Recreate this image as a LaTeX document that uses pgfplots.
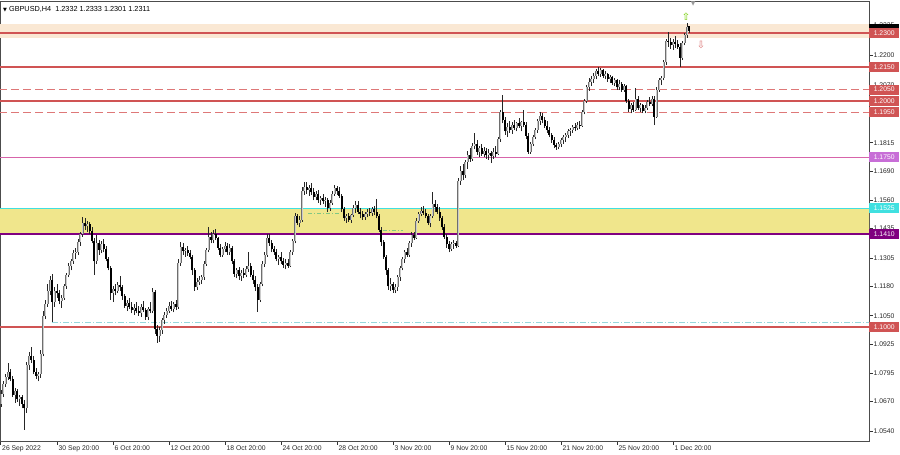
\documentclass[border=0pt]{standalone}
\usepackage{pgfplots}
\pgfplotsset{compat=1.18}
\usepackage{pgfplotstable}
\usepackage{fontspec}
\setmainfont{Liberation Sans}
\newfontfamily\dejavu{DejaVu Sans}

\definecolor{lvlred}{RGB}{208,84,84}
\definecolor{lvldash}{RGB}{222,120,120}
\definecolor{band}{RGB}{250,232,212}
\definecolor{zone}{RGB}{240,230,140}
\definecolor{zonetop}{RGB}{64,224,224}
\definecolor{zonebot}{RGB}{128,0,128}
\definecolor{pinkline}{RGB}{215,100,170}
\definecolor{pinkbox}{RGB}{200,110,215}
\definecolor{bullgray}{RGB}{110,110,110}
\definecolor{faintcyan}{RGB}{150,215,220}
\definecolor{faintgreen}{RGB}{130,200,130}

\newcommand{\lab}{\fontsize{6.8bp}{8bp}\selectfont}

% GBPUSD H4 bars, k = bar index (0 = 30 Sep 20:00)
\pgfplotstableread{
k o h l c
-24 1.0660 1.0720 1.0648 1.0705
-23 1.0705 1.0760 1.0690 1.0748
-22 1.0748 1.0790 1.0735 1.0780
-21 1.0780 1.0841 1.0765 1.0800
-20 1.0800 1.0815 1.0760 1.0772
-19 1.0772 1.0785 1.0690 1.0700
-18 1.0700 1.0730 1.0665 1.0715
-17 1.0715 1.0725 1.0670 1.0680
-16 1.0680 1.0700 1.0650 1.0690
-15 1.0690 1.0700 1.0640 1.0660
-14 1.0660 1.0675 1.0545 1.0640
-13 1.0640 1.0845 1.0620 1.0830
-12 1.0830 1.0890 1.0810 1.0870
-11 1.0870 1.0912 1.0840 1.0855
-10 1.0855 1.0870 1.0790 1.0800
-9 1.0800 1.0820 1.0770 1.0785
-8 1.0785 1.0800 1.0760 1.0790
-7 1.0790 1.0900 1.0775 1.0880
-6 1.0880 1.1070 1.0870 1.1050
-5 1.1050 1.1120 1.1035 1.1100
-4 1.1100 1.1190 1.1090 1.1160
-3 1.1160 1.1225 1.1140 1.1210
-2 1.1210 1.1235 1.1022 1.1110
-1 1.1110 1.1175 1.1090 1.1160
0 1.1160 1.1190 1.1130 1.1150
1 1.1150 1.1165 1.1100 1.1115
2 1.1115 1.1140 1.1085 1.1130
3 1.1130 1.1190 1.1120 1.1180
4 1.1180 1.1240 1.1170 1.1230
5 1.1230 1.1285 1.1220 1.1270
6 1.1270 1.1300 1.1250 1.1290
7 1.1290 1.1340 1.1280 1.1325
8 1.1325 1.1350 1.1300 1.1330
9 1.1330 1.1390 1.1320 1.1375
10 1.1375 1.1420 1.1360 1.1410
11 1.1410 1.1487 1.1400 1.1460
12 1.1460 1.1480 1.1430 1.1445
13 1.1445 1.1470 1.1420 1.1455
14 1.1455 1.1465 1.1410 1.1425
15 1.1425 1.1440 1.1370 1.1380
16 1.1380 1.1395 1.1230 1.1290
17 1.1290 1.1407 1.1280 1.1370
18 1.1370 1.1385 1.1320 1.1340
19 1.1340 1.1380 1.1325 1.1365
20 1.1365 1.1390 1.1330 1.1345
21 1.1345 1.1360 1.1290 1.1300
22 1.1300 1.1310 1.1250 1.1260
23 1.1260 1.1270 1.1120 1.1150
24 1.1150 1.1180 1.1110 1.1170
25 1.1170 1.1190 1.1140 1.1160
26 1.1160 1.1200 1.1150 1.1185
27 1.1185 1.1225 1.1160 1.1175
28 1.1175 1.1185 1.1120 1.1135
29 1.1135 1.1145 1.1085 1.1095
30 1.1095 1.1120 1.1070 1.1105
31 1.1105 1.1130 1.1080 1.1090
32 1.1090 1.1110 1.1060 1.1075
33 1.1075 1.1100 1.1055 1.1085
34 1.1085 1.1110 1.1060 1.1070
35 1.1070 1.1095 1.1050 1.1060
36 1.1060 1.1100 1.1045 1.1090
37 1.1090 1.1115 1.1065 1.1075
38 1.1075 1.1085 1.1030 1.1045
39 1.1045 1.1090 1.1030 1.1080
40 1.1080 1.1110 1.1060 1.1070
41 1.1070 1.1173 1.1060 1.1155
42 1.1155 1.1165 1.0970 1.0990
43 1.0990 1.1010 1.0930 1.0960
44 1.0960 1.1000 1.0935 1.0985
45 1.0985 1.1040 1.0970 1.1030
46 1.1030 1.1065 1.1015 1.1055
47 1.1055 1.1085 1.1040 1.1070
48 1.1070 1.1110 1.1060 1.1095
49 1.1095 1.1115 1.1070 1.1080
50 1.1080 1.1110 1.1065 1.1100
51 1.1100 1.1120 1.1075 1.1090
52 1.1090 1.1300 1.1080 1.1285
53 1.1285 1.1376 1.1270 1.1355
54 1.1355 1.1370 1.1320 1.1335
55 1.1335 1.1350 1.1310 1.1340
56 1.1340 1.1360 1.1315 1.1325
57 1.1325 1.1340 1.1300 1.1310
58 1.1310 1.1320 1.1230 1.1250
59 1.1250 1.1260 1.1160 1.1175
60 1.1175 1.1215 1.1165 1.1200
61 1.1200 1.1225 1.1185 1.1210
62 1.1210 1.1230 1.1190 1.1220
63 1.1220 1.1290 1.1210 1.1280
64 1.1280 1.1350 1.1270 1.1340
65 1.1340 1.1443 1.1330 1.1400
66 1.1400 1.1420 1.1370 1.1385
67 1.1385 1.1430 1.1370 1.1410
68 1.1410 1.1435 1.1385 1.1395
69 1.1395 1.1400 1.1340 1.1350
70 1.1350 1.1365 1.1310 1.1320
71 1.1320 1.1355 1.1310 1.1345
72 1.1345 1.1375 1.1330 1.1360
73 1.1360 1.1370 1.1320 1.1330
74 1.1330 1.1365 1.1320 1.1350
75 1.1350 1.1360 1.1280 1.1290
76 1.1290 1.1300 1.1220 1.1235
77 1.1235 1.1260 1.1215 1.1250
78 1.1250 1.1265 1.1210 1.1225
79 1.1225 1.1250 1.1205 1.1240
80 1.1240 1.1260 1.1215 1.1230
81 1.1230 1.1270 1.1220 1.1255
82 1.1255 1.1330 1.1245 1.1270
83 1.1270 1.1285 1.1220 1.1230
84 1.1230 1.1250 1.1190 1.1210
85 1.1210 1.1225 1.1160 1.1175
86 1.1175 1.1190 1.1067 1.1120
87 1.1120 1.1200 1.1110 1.1190
88 1.1190 1.1290 1.1180 1.1280
89 1.1280 1.1330 1.1265 1.1320
90 1.1320 1.1410 1.1310 1.1395
91 1.1395 1.1410 1.1360 1.1370
92 1.1370 1.1385 1.1330 1.1345
93 1.1345 1.1360 1.1320 1.1330
94 1.1330 1.1345 1.1290 1.1300
95 1.1300 1.1320 1.1275 1.1310
96 1.1310 1.1330 1.1280 1.1290
97 1.1290 1.1305 1.1260 1.1275
98 1.1275 1.1300 1.1255 1.1285
99 1.1285 1.1300 1.1260 1.1270
100 1.1270 1.1340 1.1265 1.1330
101 1.1330 1.1390 1.1320 1.1380
102 1.1380 1.1505 1.1370 1.1490
103 1.1490 1.1500 1.1450 1.1460
104 1.1460 1.1490 1.1440 1.1475
105 1.1475 1.1620 1.1465 1.1600
106 1.1600 1.1641 1.1585 1.1620
107 1.1620 1.1640 1.1590 1.1605
108 1.1605 1.1630 1.1580 1.1615
109 1.1615 1.1635 1.1585 1.1595
110 1.1595 1.1615 1.1560 1.1575
111 1.1575 1.1600 1.1560 1.1590
112 1.1590 1.1605 1.1550 1.1560
113 1.1560 1.1580 1.1540 1.1570
114 1.1570 1.1590 1.1545 1.1555
115 1.1555 1.1575 1.1530 1.1560
116 1.1560 1.1570 1.1510 1.1525
117 1.1525 1.1560 1.1515 1.1550
118 1.1550 1.1600 1.1540 1.1590
119 1.1590 1.1630 1.1580 1.1615
120 1.1615 1.1625 1.1585 1.1600
121 1.1600 1.1620 1.1570 1.1580
122 1.1580 1.1590 1.1510 1.1520
123 1.1520 1.1530 1.1470 1.1480
124 1.1480 1.1500 1.1460 1.1490
125 1.1490 1.1505 1.1465 1.1475
126 1.1475 1.1500 1.1460 1.1495
127 1.1495 1.1540 1.1485 1.1525
128 1.1525 1.1555 1.1505 1.1540
129 1.1540 1.1555 1.1500 1.1510
130 1.1510 1.1525 1.1480 1.1500
131 1.1500 1.1515 1.1475 1.1485
132 1.1485 1.1510 1.1475 1.1500
133 1.1500 1.1520 1.1485 1.1510
134 1.1510 1.1525 1.1490 1.1505
135 1.1505 1.1530 1.1490 1.1520
136 1.1520 1.1535 1.1495 1.1510
137 1.1510 1.1565 1.1480 1.1490
138 1.1490 1.1500 1.1420 1.1430
139 1.1430 1.1440 1.1360 1.1375
140 1.1375 1.1385 1.1300 1.1310
141 1.1310 1.1320 1.1230 1.1250
142 1.1250 1.1260 1.1165 1.1180
143 1.1180 1.1215 1.1160 1.1190
144 1.1190 1.1200 1.1150 1.1165
145 1.1165 1.1190 1.1150 1.1175
146 1.1175 1.1230 1.1160 1.1220
147 1.1220 1.1270 1.1205 1.1260
148 1.1260 1.1310 1.1250 1.1300
149 1.1300 1.1340 1.1285 1.1330
150 1.1330 1.1350 1.1310 1.1320
151 1.1320 1.1380 1.1310 1.1370
152 1.1370 1.1420 1.1355 1.1405
153 1.1405 1.1420 1.1385 1.1395
154 1.1395 1.1480 1.1390 1.1470
155 1.1470 1.1510 1.1460 1.1500
156 1.1500 1.1530 1.1490 1.1515
157 1.1515 1.1535 1.1495 1.1505
158 1.1505 1.1520 1.1480 1.1490
159 1.1490 1.1500 1.1450 1.1460
160 1.1460 1.1500 1.1440 1.1490
161 1.1490 1.1597 1.1480 1.1545
162 1.1545 1.1560 1.1510 1.1530
163 1.1530 1.1545 1.1500 1.1510
164 1.1510 1.1530 1.1470 1.1480
165 1.1480 1.1490 1.1430 1.1440
166 1.1440 1.1455 1.1390 1.1400
167 1.1400 1.1410 1.1350 1.1365
168 1.1365 1.1380 1.1330 1.1345
169 1.1345 1.1375 1.1335 1.1365
170 1.1365 1.1385 1.1345 1.1370
171 1.1370 1.1380 1.1350 1.1360
172 1.1360 1.1660 1.1355 1.1645
173 1.1645 1.1710 1.1630 1.1690
174 1.1690 1.1720 1.1650 1.1670
175 1.1670 1.1740 1.1660 1.1730
176 1.1730 1.1780 1.1700 1.1760
177 1.1760 1.1790 1.1730 1.1745
178 1.1745 1.1815 1.1735 1.1800
179 1.1800 1.1858 1.1785 1.1810
180 1.1810 1.1825 1.1760 1.1775
181 1.1775 1.1800 1.1750 1.1790
182 1.1790 1.1810 1.1755 1.1765
183 1.1765 1.1795 1.1750 1.1780
184 1.1780 1.1790 1.1745 1.1760
185 1.1760 1.1785 1.1740 1.1770
186 1.1770 1.1780 1.1725 1.1755
187 1.1755 1.1790 1.1745 1.1775
188 1.1775 1.1800 1.1750 1.1765
189 1.1765 1.1840 1.1760 1.1830
190 1.1830 1.1960 1.1820 1.1950
191 1.1950 1.2026 1.1900 1.1915
192 1.1915 1.1930 1.1850 1.1865
193 1.1865 1.1900 1.1840 1.1885
194 1.1885 1.1910 1.1860 1.1870
195 1.1870 1.1905 1.1855 1.1895
196 1.1895 1.1915 1.1870 1.1880
197 1.1880 1.1905 1.1865 1.1900
198 1.1900 1.1925 1.1880 1.1890
199 1.1890 1.1910 1.1865 1.1905
200 1.1905 1.1960 1.1885 1.1895
201 1.1895 1.1905 1.1830 1.1845
202 1.1845 1.1860 1.1765 1.1775
203 1.1775 1.1820 1.1765 1.1810
204 1.1810 1.1850 1.1800 1.1840
205 1.1840 1.1880 1.1830 1.1870
206 1.1870 1.1920 1.1860 1.1910
207 1.1910 1.1950 1.1895 1.1935
208 1.1935 1.1945 1.1900 1.1915
209 1.1915 1.1930 1.1880 1.1890
210 1.1890 1.1910 1.1860 1.1870
211 1.1870 1.1885 1.1840 1.1850
212 1.1850 1.1860 1.1815 1.1825
213 1.1825 1.1840 1.1790 1.1805
214 1.1805 1.1815 1.1783 1.1795
215 1.1795 1.1820 1.1785 1.1810
216 1.1810 1.1835 1.1795 1.1825
217 1.1825 1.1850 1.1810 1.1840
218 1.1840 1.1860 1.1820 1.1850
219 1.1850 1.1875 1.1835 1.1865
220 1.1865 1.1880 1.1845 1.1870
221 1.1870 1.1895 1.1860 1.1885
222 1.1885 1.1900 1.1865 1.1880
223 1.1880 1.1905 1.1870 1.1895
224 1.1895 1.1910 1.1875 1.1890
225 1.1890 1.1960 1.1885 1.1950
226 1.1950 1.2010 1.1940 1.2000
227 1.2000 1.2070 1.1990 1.2060
228 1.2060 1.2100 1.2045 1.2085
229 1.2085 1.2110 1.2065 1.2095
230 1.2095 1.2125 1.2080 1.2110
231 1.2110 1.2140 1.2095 1.2130
232 1.2130 1.2150 1.2110 1.2120
233 1.2120 1.2145 1.2105 1.2135
234 1.2135 1.2140 1.2100 1.2110
235 1.2110 1.2130 1.2095 1.2120
236 1.2120 1.2125 1.2085 1.2095
237 1.2095 1.2115 1.2080 1.2105
238 1.2105 1.2110 1.2070 1.2080
239 1.2080 1.2100 1.2065 1.2090
240 1.2090 1.2095 1.2050 1.2060
241 1.2060 1.2090 1.2050 1.2075
242 1.2075 1.2085 1.2040 1.2050
243 1.2050 1.2075 1.2040 1.2065
244 1.2065 1.2070 1.1990 1.2000
245 1.2000 1.2010 1.1950 1.1965
246 1.1965 1.1990 1.1945 1.1980
247 1.1980 1.1995 1.1950 1.1960
248 1.1960 1.2055 1.1955 1.2010
249 1.2010 1.2020 1.1960 1.1970
250 1.1970 1.1990 1.1950 1.1980
251 1.1980 1.1985 1.1945 1.1955
252 1.1955 1.1980 1.1945 1.1970
253 1.1970 1.2005 1.1960 1.1995
254 1.1995 1.2015 1.1975 1.1985
255 1.1985 1.2020 1.1975 1.2010
256 1.2010 1.2020 1.1893 1.1930
257 1.1930 1.2060 1.1925 1.2050
258 1.2050 1.2100 1.2040 1.2090
259 1.2090 1.2110 1.2070 1.2100
260 1.2100 1.2180 1.2090 1.2170
261 1.2170 1.2275 1.2160 1.2265
262 1.2265 1.2304 1.2240 1.2260
263 1.2260 1.2280 1.2230 1.2245
264 1.2245 1.2275 1.2225 1.2260
265 1.2260 1.2285 1.2235 1.2250
266 1.2250 1.2270 1.2230 1.2240
267 1.2240 1.2255 1.2150 1.2190
268 1.2190 1.2265 1.2180 1.2255
269 1.2255 1.2300 1.2245 1.2290
270 1.2290 1.2344 1.2280 1.2325
271 1.2332 1.2333 1.2301 1.2311
}\gbp

\begin{document}
\begin{tikzpicture}
\begin{axis}[
  at={(0,0)}, anchor=south west,
  scale only axis, width=869bp, height=440bp,
  xmin=-24.43, xmax=348, ymin=1.04959, ymax=1.24415,
  clip mode=individual,
  axis line style={draw=black!70, line width=0.7bp},
  tick style={draw=black!80, line width=0.6bp},
  tick align=outside, major tick length=3.5bp,
  xtick pos=bottom, ytick pos=right, yticklabel pos=right,
  tick label style={font=\lab, text=black!85},
  xtick={-24.2,0,24,48,72,96,120,144,168,192,216,240,264},
  xticklabels={26 Sep 2022,30 Sep 20:00,6 Oct 20:00,12 Oct 20:00,18 Oct 20:00,24 Oct 20:00,28 Oct 20:00,3 Nov 20:00,9 Nov 20:00,15 Nov 20:00,21 Nov 20:00,25 Nov 20:00,1 Dec 20:00},
  xticklabel style={anchor=north west, inner sep=0pt, xshift=1.5bp, yshift=-1bp},
  ytick={1.0540,1.0670,1.0795,1.0925,1.1050,1.1180,1.1305,1.1435,1.1560,1.1690,1.1815,1.1945,1.2070,1.2200,1.2335},
  yticklabels={1.0540,1.0670,1.0795,1.0925,1.1050,1.1180,1.1305,1.1435,1.1560,1.1690,1.1815,1.1945,1.2070,1.2200,1.2335},
  yticklabel style={anchor=west, inner sep=0pt, xshift=1bp},
  candle/.style={draw=none, mark=none, forget plot,
    error bars/y dir=plus, error bars/y explicit, error bars/error mark=none},
]
% zones
\addplot[fill=band, draw=none] coordinates {(-30,1.2278) (360,1.2278) (360,1.2340) (-30,1.2340)} --cycle;
\addplot[fill=zone, draw=none] coordinates {(-30,1.1410) (360,1.1410) (360,1.1525) (-30,1.1525)} --cycle;
% level lines
\addplot[lvlred, line width=1.6bp] coordinates {(-30,1.2300) (360,1.2300)};
\addplot[lvlred, line width=1.6bp] coordinates {(-30,1.2150) (360,1.2150)};
\addplot[lvldash, line width=0.9bp, dash pattern=on 8bp off 4bp] coordinates {(-30,1.2050) (360,1.2050)};
\addplot[lvlred, line width=1.6bp] coordinates {(-30,1.2000) (360,1.2000)};
\addplot[lvldash, line width=0.9bp, dash pattern=on 8bp off 4bp] coordinates {(-30,1.1950) (360,1.1950)};
\addplot[pinkline, line width=1.6bp] coordinates {(-30,1.1750) (360,1.1750)};
\addplot[zonetop, line width=1.4bp] coordinates {(-30,1.1525) (360,1.1525)};
\addplot[zonebot, line width=1.8bp] coordinates {(-30,1.1410) (360,1.1410)};
\addplot[lvlred, line width=1.6bp] coordinates {(-30,1.1000) (360,1.1000)};
\addplot[faintcyan, line width=0.8bp, dash pattern=on 6bp off 2bp on 1bp off 2bp] coordinates {(-2,1.1022) (360,1.1022)};
\addplot[faintgreen, line width=0.8bp, dash pattern=on 4bp off 2bp on 1bp off 2bp] coordinates {(107.6,1.1504) (121.3,1.1504)};
\addplot[faintgreen, line width=0.8bp, dash pattern=on 4bp off 2bp on 1bp off 2bp] coordinates {(139.7,1.1429) (148.3,1.1429)};
% wicks
\addplot[candle, error bars/error bar style={draw=black!85, line width=0.7bp}]
  table[x=k, y=l, y error expr=\thisrow{h}-\thisrow{l}] {\gbp};
% bull bodies
\addplot[candle, restrict expr to domain={\thisrow{c}-\thisrow{o}}{0:1},
  error bars/error bar style={draw=bullgray, line width=1.8bp}]
  table[x=k, y=o, y error expr=\thisrow{c}-\thisrow{o}] {\gbp};
\addplot[candle, restrict expr to domain={\thisrow{c}-\thisrow{o}}{0:1},
  error bars/error bar style={draw=white!80!black, line width=0.6bp}]
  table[x=k, y=o, y error expr=\thisrow{c}-\thisrow{o}] {\gbp};
% bear bodies
\addplot[candle, restrict expr to domain={\thisrow{c}-\thisrow{o}}{-1:-0.00001},
  error bars/error bar style={draw=black, line width=1.8bp}]
  table[x=k, y=c, y error expr=\thisrow{o}-\thisrow{c}] {\gbp};

% title
\node[anchor=west, inner sep=0pt, font=\fontsize{7.3bp}{8bp}\selectfont] at ([xshift=3bp,yshift=-8bp]axis description cs:0,1)
  {{\dejavu\fontsize{5bp}{5bp}\selectfont ▼}\ GBPUSD,H4\ \ 1.2332 1.2333 1.2301 1.2311};
% arrows
\node[text=green!45!yellow!80!black, font=\dejavu\fontsize{10bp}{10bp}\selectfont, inner sep=0pt] at (axis cs:269.6,1.2371) {⇧};
\node[text=lvlred!80, font=\dejavu\fontsize{10bp}{10bp}\selectfont, inner sep=0pt] at (axis cs:276,1.2247) {⇩};
\node[text=black!40, font=\dejavu\fontsize{6bp}{6bp}\selectfont, inner sep=0pt, anchor=north] at (axis cs:272.6,1.24415) {▼};
% price labels on the right
\tikzset{plab/.style={anchor=west, inner sep=0pt, minimum width=30bp, minimum height=10bp, text=white, font=\lab}}
\node[plab, fill=black] at (axis cs:348,1.2316) {};
\node[plab, fill=lvlred] at (axis cs:348,1.2300) {1.2300};
\node[plab, fill=lvlred] at (axis cs:348,1.2150) {1.2150};
\node[plab, fill=lvlred] at (axis cs:348,1.2050) {1.2050};
\node[plab, fill=lvlred] at (axis cs:348,1.2000) {1.2000};
\node[plab, fill=lvlred] at (axis cs:348,1.1950) {1.1950};
\node[plab, fill=pinkbox] at (axis cs:348,1.1750) {1.1750};
\node[plab, fill=zonetop] at (axis cs:348,1.1525) {1.1525};
\node[plab, fill=zonebot] at (axis cs:348,1.1410) {1.1410};
\node[plab, fill=lvlred] at (axis cs:348,1.1000) {1.1000};
\end{axis}
\pgfresetboundingbox
\path[use as bounding box] (0,-14bp) rectangle (900bp,441bp);
\end{tikzpicture}
\end{document}
